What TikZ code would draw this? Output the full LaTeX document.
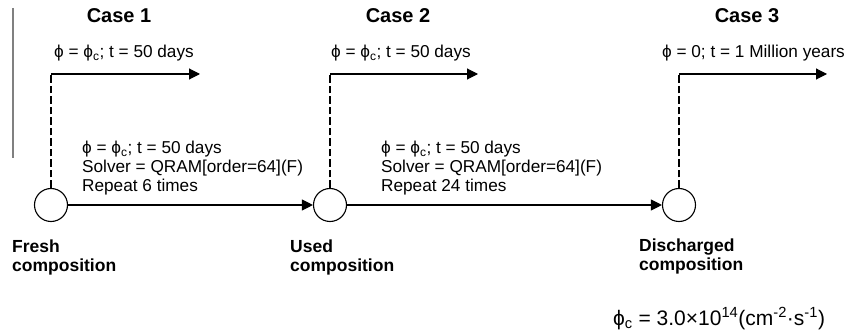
\documentclass[tikz,border=0pt]{standalone}
\usepackage{fontspec}
\setmainfont{Liberation Sans}
\usetikzlibrary{arrows.meta}
\newcommand{\flux}{ϕ}
\newcommand{\fluxc}{ϕ\textsubscript{c}}
\begin{document}
\begin{tikzpicture}[x=1pt,y=-1pt,
  comp/.style={circle,draw,line width=1.1pt,minimum size=33pt,inner sep=0pt},
  flow/.style={line width=1.1pt,-{Triangle[length=11pt,width=11pt]}},
  link/.style={line width=1.1pt,dash pattern=on 7.5pt off 3pt},
  txt/.style={inner sep=0pt,anchor=base west,font=\fontsize{17.2}{19}\selectfont},
  block/.style={txt,align=left},
  casehead/.style={inner sep=0pt,anchor=base,font=\fontsize{20}{22}\selectfont\bfseries},
  state/.style={inner sep=0pt,anchor=base west,align=left,font=\fontsize{17.5}{19}\selectfont\bfseries},
  note/.style={inner sep=0pt,anchor=base west,font=\fontsize{21}{24}\selectfont}]
\useasboundingbox (0,0) rectangle (846,331);

% margin rule on the left
\draw[line width=2pt,gray] (13,8) -- (13,158);

% compositions
\node[comp] (c1) at (51,205) {};
\node[comp] (c2) at (330,205) {};
\node[comp] (c3) at (679,205) {};

% depletion chain
\draw[flow] (c1) -- (c2);
\draw[flow] (c2) -- (c3);

% branch points of the three cases
\coordinate (k1) at (51,74);
\coordinate (k2) at (330,74);
\coordinate (k3) at (679,74);
\coordinate (e1) at (200,74);
\coordinate (e2) at (478,74);
\coordinate (e3) at (827,74);

\draw[link] (c1.north) -- (k1);
\draw[link] (c2.north) -- (k2);
\draw[link] (c3.north) -- (k3);
\draw[flow] (k1) -- (e1);
\draw[flow] (k2) -- (e2);
\draw[flow] (k3) -- (e3);

% case headings
\node[casehead] (h1) at (119,23) {Case 1};
\node[casehead] (h2) at (398,23) {Case 2};
\node[casehead] (h3) at (747,23) {Case 3};

% irradiation conditions of each case
\node[txt] (t1) at (54,58) {\flux{} = \fluxc; t = 50 days};
\node[txt] (t2) at (331,58) {\flux{} = \fluxc; t = 50 days};
\node[txt] (t3) at (662,58) {\flux{} = 0; t = 1 Million years};

% depletion steps (anchored on the last line)
\node[block] (s1) at (82,192) {\flux{} = \fluxc; t = 50 days\\Solver = QRAM[order=64](F)\\Repeat 6 times};
\node[block] (s2) at (381,192) {\flux{} = \fluxc; t = 50 days\\Solver = QRAM[order=64](F)\\Repeat 24 times};

% composition names
\node[state] (n1) at (12,271) {Fresh\\composition};
\node[state] (n2) at (290,271) {Used\\composition};
\node[state] (n3) at (639,270) {Discharged\\composition};

% reference flux
\node[note] (fx) at (613,325) {\fluxc{} = 3.0×10\textsuperscript{14}(cm\textsuperscript{-2}·s\textsuperscript{-1})};
\end{tikzpicture}
\end{document}
